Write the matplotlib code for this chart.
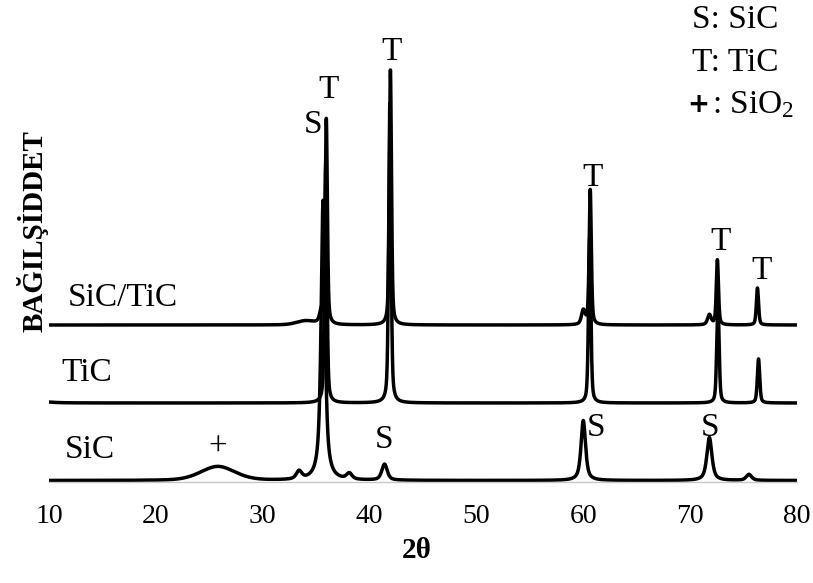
import numpy as np
import matplotlib
matplotlib.use('Agg')
import matplotlib.pyplot as plt

plt.rcParams['font.family'] = ['Liberation Serif', 'DejaVu Serif']
plt.rcParams['mathtext.default'] = 'regular'

# peak tables: position (2theta), height (px above baseline),
# half width, lorentz fraction
sic_pos = [25.8, 33.4, 35.65, 38.1, 41.4, 60.0, 71.8, 75.5]
sic_hgt = [14, 8, 280, 6, 16, 60, 43, 6]
sic_wid = [1.9, 0.3, 0.22, 0.3, 0.3, 0.25, 0.28, 0.3]
sic_eta = [0.3, 0.6, 0.8, 0.6, 0.6, 0.7, 0.7, 0.6]
sic_base = 1.5

tic_pos = [8.0, 35.9, 41.9, 60.6, 72.6, 76.4]
tic_hgt = [3, 240, 300, 165, 100, 44]
tic_wid = [1.5, 0.13, 0.13, 0.13, 0.13, 0.13]
tic_eta = [0.5, 0.45, 0.45, 0.45, 0.45, 0.45]
tic_base = 79

mix_pos = [34.0, 35.5, 35.95, 41.95, 60.0, 60.65, 71.8, 72.55, 76.3]
mix_hgt = [4, 12, 205, 255, 14, 135, 10, 65, 37]
mix_wid = [1.0, 0.2, 0.12, 0.12, 0.2, 0.12, 0.2, 0.12, 0.12]
mix_eta = [0.3, 0.5, 0.45, 0.45, 0.5, 0.45, 0.5, 0.45, 0.45]
mix_base = 157

curve_names = ['SiC', 'TiC', 'SiC/TiC']
name_xy = [(11.5, 32), (11.2, 109), (11.8, 184)]

peak_marks = ['S', 'T', 'T', 'T', 'T', 'T', 'S', 'S', 'S', '+']
peak_mark_xy = [(34.7, 357), (36.2, 392), (42.1, 430), (60.9, 304), (72.8, 240),
                (76.7, 211), (41.4, 42), (61.2, 54), (71.9, 54), (25.8, 35)]

legend_keys = ['S', 'T', '+']
legend_vals = [': SiC', ': TiC', ': SiO$_2$']


def pattern(x, pos, hgt, wid, eta, base):
    y = np.full_like(x, base, dtype=float)
    for p, h, w, e in zip(pos, hgt, wid, eta):
        d = (x - p) / w
        y += h * (e / (1 + d ** 2) + (1 - e) * np.exp(-np.log(2) * d ** 2))
    return y


W, H = 813, 583
fig = plt.figure(figsize=(W / 100, H / 100), dpi=100)
ax = fig.add_axes([49 / W, (H - 482) / H, (797 - 49) / W, 482 / H])

x = np.arange(10, 80.001, 0.01)
for pos, hgt, wid, eta, base in [(sic_pos, sic_hgt, sic_wid, sic_eta, sic_base),
                                 (tic_pos, tic_hgt, tic_wid, tic_eta, tic_base),
                                 (mix_pos, mix_hgt, mix_wid, mix_eta, mix_base)]:
    ax.plot(x, pattern(x, pos, hgt, wid, eta, base), color='black', lw=2.5)

for name, (tx, ty) in zip(curve_names, name_xy):
    ax.text(tx, ty, name, fontsize=24, ha='left', va='center')

for m, (tx, ty) in zip(peak_marks, peak_mark_xy):
    ax.text(tx, ty, m, fontsize=24, ha='center', va='center')

ax.set_xlim(10, 80)
ax.set_ylim(0, 482)
ax.set_xticks(range(10, 81, 10))
ax.set_yticks([])
for s in ['top', 'right', 'left']:
    ax.spines[s].set_visible(False)
ax.spines['bottom'].set_color('#c8c8c8')
ax.spines['bottom'].set_linewidth(1.0)
ax.tick_params(axis='x', length=0, pad=16, labelsize=20)
ax.patch.set_alpha(0)

# legend block, top right
for i, (k, v) in enumerate(zip(legend_keys, legend_vals)):
    yy = 1 - [20, 63, 105][i] / H
    if k == '+':
        fig.text(698 / W, yy, k, fontsize=19, fontweight='bold', family='DejaVu Sans',
                 ha='center', va='center')
        fig.text(712 / W, yy, v, fontsize=24, ha='left', va='center')
    else:
        fig.text(692 / W, yy, k + v, fontsize=24, ha='left', va='center')

fig.text(417 / W, 1 - 551 / H, '2θ', fontsize=21, fontweight='bold', ha='center', va='center')
fig.text(33 / W, 1 - 231 / H, 'BAĞILŞİDDET', fontsize=21, fontweight='bold',
         rotation=90, ha='center', va='center')

fig.savefig('out.png', dpi=100)
